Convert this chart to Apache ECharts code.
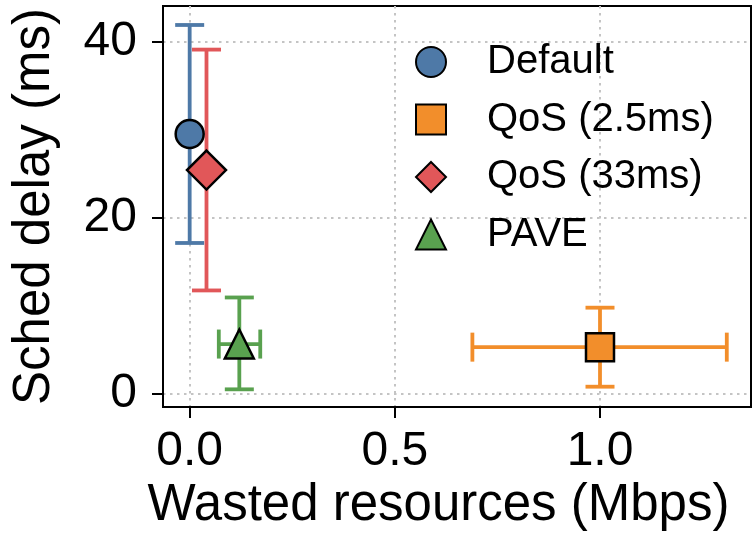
<!DOCTYPE html>
<html>
<head>
<meta charset="utf-8">
<script src="https://cdn.jsdelivr.net/npm/echarts@6/dist/echarts.min.js"></script>
<style>
html,body{margin:0;padding:0;background:#fff;}
#chart{width:754px;height:537px;}
</style>
</head>
<body>
<div id="chart"></div>
<script>
const seriesNames = ['Default', 'QoS (2.5ms)', 'QoS (33ms)', 'PAVE'];
const xValues = [0.0, 1.0, 0.041, 0.121];
const yValues = [29.5, 5.25, 25.4, 5.6];
const xLow = [0.0, 0.689, 0.041, 0.071];
const xHigh = [0.0, 1.309, 0.041, 0.172];
const yLow = [17.1, 0.75, 11.7, 0.45];
const yHigh = [41.9, 9.74, 39.1, 10.9];
const xTicks = [0, 0.5, 1.0];
const yTicks = [0, 20, 40];

const colors = ['#4e79a7', '#f28e2b', '#e15759', '#59a14f'];
const symbols = ['circle', 'rect', 'diamond', 'triangle'];
const symbolSizes = [28, 28, 39, 29];
const FONT = 'Liberation Sans';

const chart = echarts.init(document.getElementById('chart'), null, {renderer: 'canvas'});

const CAP = 14.5;
function errRender(idx) {
  return function (params, api) {
    const x = api.value(0), y = api.value(1);
    const xl = api.value(2), xh = api.value(3), yl = api.value(4), yh = api.value(5);
    const pLo = api.coord([x, yl]);
    const pHi = api.coord([x, yh]);
    const style = {stroke: colors[idx], lineWidth: 3.8, fill: null};
    const children = [
      {type: 'line', shape: {x1: pLo[0], y1: pLo[1], x2: pHi[0], y2: pHi[1]}, style: style},
      {type: 'line', shape: {x1: pLo[0] - CAP, y1: pLo[1], x2: pLo[0] + CAP, y2: pLo[1]}, style: style},
      {type: 'line', shape: {x1: pHi[0] - CAP, y1: pHi[1], x2: pHi[0] + CAP, y2: pHi[1]}, style: style}
    ];
    if (xh > xl) {
      const qLo = api.coord([xl, y]);
      const qHi = api.coord([xh, y]);
      children.push(
        {type: 'line', shape: {x1: qLo[0], y1: qLo[1], x2: qHi[0], y2: qHi[1]}, style: style},
        {type: 'line', shape: {x1: qLo[0], y1: qLo[1] - CAP, x2: qLo[0], y2: qLo[1] + CAP}, style: style},
        {type: 'line', shape: {x1: qHi[0], y1: qHi[1] - CAP, x2: qHi[0], y2: qHi[1] + CAP}, style: style}
      );
    }
    return {type: 'group', children: children};
  };
}

const series = [];
seriesNames.forEach((name, i) => {
  series.push({
    name: name + ' error',
    type: 'custom',
    renderItem: errRender(i),
    data: [[xValues[i], yValues[i], xLow[i], xHigh[i], yLow[i], yHigh[i]]],
    encode: {x: [0, 2, 3], y: [1, 4, 5]},
    z: 2,
    silent: true
  });
});
seriesNames.forEach((name, i) => {
  series.push({
    name: name,
    type: 'scatter',
    symbol: symbols[i],
    symbolSize: symbolSizes[i],
    data: [[xValues[i], yValues[i]]],
    itemStyle: {color: colors[i], borderColor: '#000', borderWidth: 2.5, opacity: 1},
    z: 5
  });
});

const gridLine = {show: true, lineStyle: {color: '#c4c4c4', width: 2, type: [2.5, 4.5]}};

chart.setOption({
  animation: false,
  backgroundColor: '#fff',
  textStyle: {fontFamily: FONT},
  grid: {left: 163, right: 3, top: 6, bottom: 130, show: true, borderColor: '#000', borderWidth: 2, backgroundColor: 'transparent'},
  legend: {
    data: seriesNames,
    orient: 'vertical',
    left: 415,
    top: 42,
    padding: 0,
    itemWidth: 30,
    itemHeight: 30,
    itemGap: 17.5,
    textStyle: {fontFamily: FONT, fontSize: 40, color: '#000', lineHeight: 30, padding: [0, 0, 0, 36]}
  },
  xAxis: {
    type: 'value',
    min: -0.065,
    max: 1.368,
    name: 'Wasted resources (Mbps)',
    nameLocation: 'middle',
    nameGap: 71,
    nameTextStyle: {fontFamily: FONT, fontSize: 51, color: '#000', padding: [0, 37, 0, 0]},
    axisLine: {show: true, onZero: false, lineStyle: {color: '#000', width: 2}},
    axisTick: {show: true, inside: false, length: 11, lineStyle: {color: '#000', width: 2}, customValues: xTicks},
    axisLabel: {show: true, margin: 21, fontFamily: FONT, fontSize: 48, color: '#000', customValues: xTicks,
      formatter: v => v.toFixed(1)},
    splitLine: gridLine
  },
  yAxis: {
    type: 'value',
    min: -1.56,
    max: 44.06,
    name: 'Sched delay (ms)',
    nameLocation: 'middle',
    nameGap: 103,
    nameRotate: 90,
    nameTextStyle: {fontFamily: FONT, fontSize: 51, color: '#000'},
    axisLine: {show: true, onZero: false, lineStyle: {color: '#000', width: 2}},
    axisTick: {show: true, inside: false, length: 11, lineStyle: {color: '#000', width: 2}, customValues: yTicks},
    axisLabel: {show: true, margin: 26, fontFamily: FONT, fontSize: 48, color: '#000', customValues: yTicks,
      formatter: v => String(v)},
    splitLine: gridLine
  },
  series: series
});
</script>
</body>
</html>
